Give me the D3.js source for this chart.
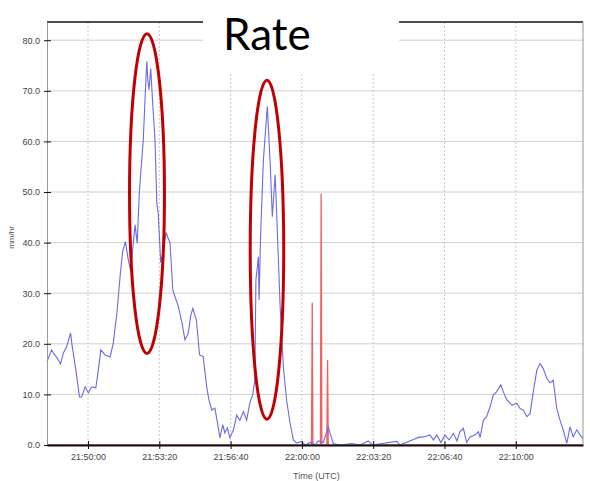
<!DOCTYPE html>
<html>
<head>
<meta charset="utf-8">
<script src="https://cdn.jsdelivr.net/npm/d3@7"></script>
<style>
  html, body { margin: 0; padding: 0; background: #fff; }
  svg { display: block; }
</style>
</head>
<body>
<svg id="chart" width="590" height="481"></svg>
<script>
// ---- data (seconds after 21:48:00 UTC, value in mm/hr) ----
const startClock = "21:48:00";
const domainSeconds = [5, 1508.5];
const yDomain = [0, 83.6];
const yTicks = [0, 10, 20, 30, 40, 50, 60, 70, 80];
const xTickLabels = ["21:50:00", "21:53:20", "21:56:40", "22:00:00", "22:03:20", "22:06:40", "22:10:00"];

const rateTimes = [5,18,27,37,43,51,60,71,76,86,96,102,112,121,130,142,149,156,168,182,191,201,210,217,225,233,240,247,252,258,264,275,281,285,288,291,296,301,308,313,317,324,330,339,344,350,358,364,373,384,392,401,408,414,424,433,443,453,459,467,476,485,490,498,504,511,518,528,537,546,556,565,574,582,588,591,598,600,604,612,623,631,637,645,651,659,668,677,687,696,705,719,729,743,757,766,780,794,799,808,827,860,883,906,917,986,995,1033,1047,1061,1079,1089,1098,1110,1121,1133,1145,1155,1163,1173,1182,1192,1206,1215,1220,1229,1238,1248,1257,1266,1278,1285,1295,1309,1323,1332,1341,1351,1360,1369,1379,1388,1397,1407,1416,1425,1435,1444,1453,1463,1472,1481,1491,1500,1508];
const rateValues = [16.5,18.8,17.8,16.8,16.0,18.2,19.4,22.1,19.4,14.8,9.5,9.5,11.5,10.3,11.5,11.3,14.8,18.8,17.8,17.4,20.2,26,33.3,38.2,40.2,36.6,34.3,39.9,43.5,39.9,50,60.3,70,75.8,72,70.2,74.4,68,60.3,47.8,45.8,36,38,42,41,40,30.6,29.3,27.5,24,20.8,22,25.5,27,24.7,17.8,17.5,11.5,9,6.9,7.3,3.6,1.4,4,2.4,3.4,1.4,3,5.9,4.9,6.6,4.9,8.3,9.9,12.8,32.6,37.2,28.7,41.2,56.3,66.9,55.7,45.1,53.4,42.5,27.3,15.5,8.9,4.3,1,0.4,0.7,0,0.5,0,0.8,0.5,3.6,2.3,0.3,0,0.3,0,0.8,0,0.7,0,1.1,1.5,1.6,2,1,2,0.5,2,1,2.3,0.8,2.6,3.3,0.5,1.6,2,2.6,1.5,4.9,5.6,7.6,9.9,10.5,11.9,10.5,8.9,7.9,8.2,7.2,6.9,5.6,6.2,10.5,14.8,16.1,15.1,13.2,12.3,12.8,7.2,4.9,3,0.3,3.6,1.6,3,2,1.3];

const gaugeTimes = [5,747,749,751,772,774,776,790,792,794,1508];
const gaugeValues = [0,0,28.1,0,0,49.7,0,0,16.8,0,0];

// highlight ellipses: centre time, centre value, half-width (s), half-height (mm/hr)
const ellipseCenterTimes = [285.5, 622];
const ellipseCenterValues = [49.7, 38.6];
const ellipseHalfTimes = [49, 47];
const ellipseHalfValues = [31.6, 33.5];

const titleText = "Rate";
const yLabel = "mm/hr";
const xLabel = "Time (UTC)";

// ---- helpers ----
function clockToDate(c) {
  const [h, m, s] = c.split(":").map(Number);
  return new Date(Date.UTC(2000, 0, 1, h, m, s));
}
const t0 = clockToDate(startClock);
const toDate = s => new Date(t0.getTime() + s * 1000);

const svg = d3.select("#chart");
const margin = { left: 47, right: 7, top: 22, bottom: 36 };
const W = 590, H = 481;
const x = d3.scaleUtc().domain(domainSeconds.map(toDate)).range([margin.left, W - margin.right]);
const y = d3.scaleLinear().domain(yDomain).range([H - margin.bottom, margin.top]);

const xTickDates = xTickLabels.map(clockToDate);

// grid
svg.append("g").selectAll("line").data(yTicks).join("line")
  .attr("x1", margin.left).attr("x2", W - margin.right)
  .attr("y1", d => y(d)).attr("y2", d => y(d))
  .attr("stroke", "#d0d0d0").attr("stroke-width", 1);
svg.append("g").selectAll("line").data(xTickDates).join("line")
  .attr("x1", d => x(d)).attr("x2", d => x(d))
  .attr("y1", margin.top).attr("y2", H - margin.bottom)
  .attr("stroke", "#c8c8c8").attr("stroke-width", 1).attr("stroke-dasharray", "2,2");

// frame top / right
svg.append("line").attr("x1", margin.left).attr("x2", W - margin.right)
  .attr("y1", margin.top).attr("y2", margin.top).attr("stroke", "#111").attr("stroke-width", 1.5);
svg.append("line").attr("x1", W - margin.right).attr("x2", W - margin.right)
  .attr("y1", margin.top).attr("y2", H - margin.bottom).attr("stroke", "#999").attr("stroke-width", 1);

// series
const rateData = rateTimes.map((t, i) => [toDate(t), rateValues[i]]);
const gaugeData = gaugeTimes.map((t, i) => [toDate(t), gaugeValues[i]]);
const line = d3.line().x(d => x(d[0])).y(d => y(d[1]));

svg.append("path").datum(gaugeData).attr("d", line)
  .attr("fill", "none").attr("stroke", "#f06060").attr("stroke-width", 1.3);
svg.append("path").datum(rateData).attr("d", line)
  .attr("fill", "none").attr("stroke", "#6a6ae8").attr("stroke-width", 1.1);

// axes
const yAxis = d3.axisLeft(y).tickValues(yTicks).tickFormat(d3.format(".1f")).tickSizeInner(4).tickSizeOuter(0).tickPadding(3);
const yg = svg.append("g").attr("transform", `translate(${margin.left},0)`).call(yAxis);
yg.select(".domain").attr("stroke", "#999");
yg.selectAll(".tick line").attr("x1", -3).attr("x2", 4).attr("stroke", "#111");
yg.selectAll(".tick text").attr("fill", "#444").attr("font-family", "Liberation Sans, Arial, sans-serif").attr("font-size", 9);

const xAxis = d3.axisBottom(x).tickValues(xTickDates).tickFormat(d3.utcFormat("%H:%M:%S")).tickSizeInner(4).tickSizeOuter(0).tickPadding(5);
const xg = svg.append("g").attr("transform", `translate(0,${H - margin.bottom})`).call(xAxis);
xg.select(".domain").attr("stroke", "#111").attr("stroke-width", 2);
xg.selectAll(".tick line").attr("y1", -4).attr("y2", 4).attr("stroke", "#111");
xg.selectAll(".tick text").attr("fill", "#444").attr("font-family", "Liberation Sans, Arial, sans-serif").attr("font-size", 9);

// axis labels
svg.append("text").attr("transform", `translate(14,${(y(yDomain[0]) + y(yDomain[1])) / 2 + 4}) rotate(-90)`)
  .attr("text-anchor", "middle").attr("font-family", "Liberation Sans, Arial, sans-serif")
  .attr("font-size", 8).attr("fill", "#555").text(yLabel);
svg.append("text").attr("x", 293).attr("y", 479)
  .attr("font-family", "Liberation Sans, Arial, sans-serif")
  .attr("font-size", 9).attr("fill", "#555").text(xLabel);

// title box
svg.append("rect").attr("x", 203).attr("y", 0).attr("width", 196).attr("height", 72).attr("fill", "#fff");
svg.append("text").attr("x", 223).attr("y", 50).attr("font-family", "Lato, Carlito, sans-serif")
  .attr("font-size", 44).attr("fill", "#000").text(titleText);

// highlight ellipses
svg.append("g").selectAll("ellipse").data(ellipseCenterTimes).join("ellipse")
  .attr("cx", (d) => x(toDate(d)))
  .attr("cy", (d, i) => y(ellipseCenterValues[i]))
  .attr("rx", (d, i) => x(toDate(d + ellipseHalfTimes[i])) - x(toDate(d)))
  .attr("ry", (d, i) => y(0) - y(ellipseHalfValues[i]))
  .attr("fill", "none").attr("stroke", "#c00000").attr("stroke-width", 3);
</script>
</body>
</html>
